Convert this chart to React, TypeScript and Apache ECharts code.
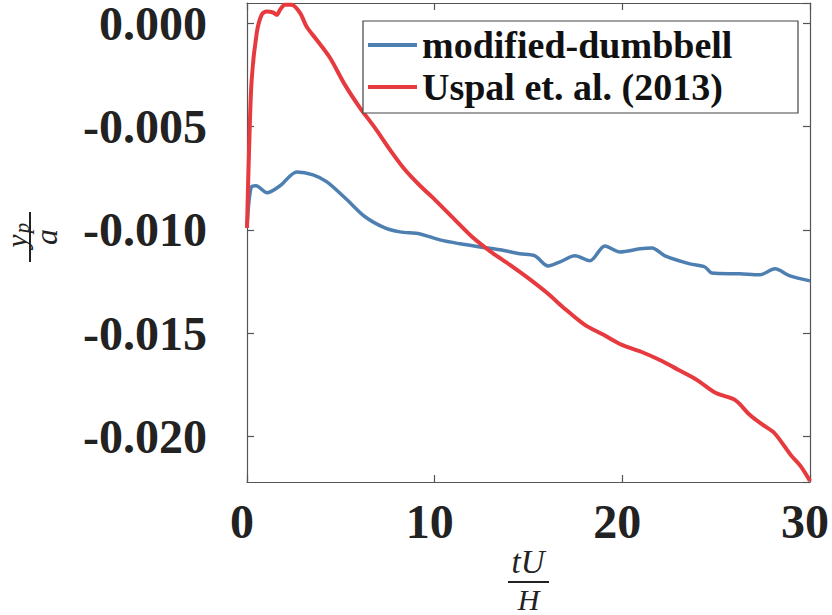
import React, { useEffect, useRef } from "react";
import * as echarts from "echarts";

const xTicks = [0, 10, 20, 30];
const yTickStep = 0.005;

const seriesNames = ["modified-dumbbell", "Uspal et. al. (2013)"];

const blueX = [0, 0.21, 0.48, 1.07, 1.76, 2.66, 3.52, 4.26, 5.33, 6.29, 7.35, 8.15, 9.22, 10.28, 11.35, 12.41, 13.48, 14.54, 15.34, 16.04, 16.68, 17.47, 18.27, 19.07, 19.87, 20.94, 21.58, 22.27, 23.6, 24.4, 24.77, 26.26, 27.33, 28.13, 28.93, 30];
const blueY = [-0.00991, -0.00797, -0.00787, -0.00821, -0.00787, -0.0072, -0.00734, -0.00768, -0.00855, -0.00937, -0.00991, -0.0101, -0.0102, -0.01049, -0.01068, -0.01083, -0.01097, -0.01116, -0.01126, -0.01175, -0.01155, -0.01126, -0.0115, -0.01078, -0.01107, -0.01092, -0.01088, -0.01126, -0.01165, -0.0118, -0.01209, -0.01213, -0.01218, -0.01189, -0.01223, -0.01247];

const redX = [0, 0.11, 0.25, 0.52, 0.78, 1.05, 1.39, 1.58, 1.76, 2.02, 2.38, 2.82, 3.18, 3.71, 4.42, 5.22, 6.02, 6.82, 7.62, 8.42, 9.22, 10.02, 11.08, 11.99, 13.0, 14.01, 14.97, 15.98, 17.0, 18.0, 19.0, 19.98, 21.0, 22.0, 23.0, 23.97, 24.99, 26.0, 26.8, 27.49, 28.1, 28.98, 29.5, 30];
const redY = [-0.00991, -0.00613, -0.00274, -0.00047, 0.0004, 0.00056, 0.00051, 0.0004, 0.00064, 0.00089, 0.00089, 0.0005, -0.00018, -0.00081, -0.00168, -0.00299, -0.0041, -0.00507, -0.00613, -0.0071, -0.00787, -0.00855, -0.00952, -0.01034, -0.01107, -0.0117, -0.01233, -0.01305, -0.01387, -0.0146, -0.01508, -0.01557, -0.0159, -0.0163, -0.01678, -0.01726, -0.0179, -0.01823, -0.01896, -0.01944, -0.01983, -0.0209, -0.02143, -0.02215];

const X_MIN = 0;
const X_MAX = 30;
const Y_MIN = -0.0222;
const Y_MAX = 0.00097;

const BLUE = "#4e7fb1";
const RED = "#e63a3f";
const AXIS = "#555555";
const TEXT = "#222222";
const TICK_FONT = "'Liberation Serif', 'DejaVu Serif', serif";

export default function App() {
  const ref = useRef<HTMLDivElement>(null);

  useEffect(() => {
    if (!ref.current) return;
    const chart = echarts.init(ref.current, undefined, { renderer: "svg" });

    const axisLine = { show: true, onZero: false, lineStyle: { color: AXIS, width: 1.2 } };
    const axisTick = { show: true, inside: true, length: 7, lineStyle: { color: AXIS, width: 1.2 } };
    const tickLabel = {
      fontFamily: TICK_FONT,
      fontWeight: "bold" as const,
      fontSize: 48,
      lineHeight: 38,
      color: TEXT,
    };

    const xBase = {
      type: "value" as const,
      min: X_MIN,
      max: X_MAX,
      interval: xTicks[1] - xTicks[0],
      splitLine: { show: false },
      axisLine,
      axisTick,
    };
    const yBase = {
      type: "value" as const,
      min: Y_MIN,
      max: Y_MAX,
      splitNumber: 5,
      minInterval: yTickStep,
      maxInterval: yTickStep,
      splitLine: { show: false },
      axisLine,
      axisTick,
    };

    chart.setOption({
      animation: false,
      backgroundColor: "#ffffff",
      grid: {
        left: 247,
        right: 22,
        top: 3,
        bottom: 133,
        containLabel: false,
        outerBoundsMode: "none",
      },
      xAxis: [
        {
          ...xBase,
          position: "bottom",
          axisLabel: { ...tickLabel, margin: 20, padding: [0, 10, 0, 0] },
        },
        { ...xBase, position: "top", axisLabel: { show: false } },
      ],
      yAxis: [
        {
          ...yBase,
          position: "left",
          axisLabel: {
            ...tickLabel,
            margin: 40,
            showMinLabel: false,
            showMaxLabel: false,
            formatter: (v: number) => (Math.abs(v) < 1e-9 ? 0 : v).toFixed(3),
          },
        },
        { ...yBase, position: "right", axisLabel: { show: false } },
      ],
      legend: {
        show: true,
        orient: "vertical",
        left: 368,
        top: 24,
        padding: 0,
        itemGap: 0,
        itemWidth: 49,
        itemHeight: 4,
        icon: "rect",
        z: 10,
        textStyle: {
          fontFamily: TICK_FONT,
          fontWeight: "bold",
          fontSize: 38,
          color: "#111111",
          lineHeight: 42,
        },
        data: seriesNames,
      },
      graphic: [
        {
          type: "rect",
          shape: { x: 363, y: 21, width: 435, height: 92 },
          style: { fill: "#ffffff", stroke: "#444444", lineWidth: 1.2 },
          z: 5,
        },
        {
          type: "group",
          x: 30,
          y: 237,
          rotation: Math.PI / 2,
          children: [
            {
              type: "text",
              x: -4,
              y: -14,
              style: {
                text: "y",
                font: "italic 30px 'Liberation Serif', serif",
                fill: TEXT,
                align: "center",
                verticalAlign: "middle",
              },
            },
            {
              type: "text",
              x: 9,
              y: -8,
              style: {
                text: "p",
                font: "italic 21px 'Liberation Serif', serif",
                fill: TEXT,
                align: "center",
                verticalAlign: "middle",
              },
            },
            {
              type: "line",
              shape: { x1: -25, y1: 0, x2: 25, y2: 0 },
              style: { stroke: TEXT, lineWidth: 2 },
            },
            {
              type: "text",
              x: 0,
              y: 16,
              style: {
                text: "a",
                font: "italic 32px 'Liberation Serif', serif",
                fill: TEXT,
                align: "center",
                verticalAlign: "middle",
              },
            },
          ],
        },
        {
          type: "text",
          x: 528,
          y: 562,
          style: {
            text: "tU",
            font: "italic 33px 'Liberation Serif', serif",
            fill: TEXT,
            align: "center",
            verticalAlign: "middle",
          },
        },
        {
          type: "line",
          shape: { x1: 508, y1: 582, x2: 549, y2: 582 },
          style: { stroke: TEXT, lineWidth: 2 },
        },
        {
          type: "text",
          x: 528.5,
          y: 599,
          style: {
            text: "H",
            font: "italic 30px 'Liberation Serif', serif",
            fill: TEXT,
            align: "center",
            verticalAlign: "middle",
          },
        },
      ],
      series: [
        {
          name: seriesNames[0],
          type: "line",
          xAxisIndex: 0,
          yAxisIndex: 0,
          data: blueX.map((x, i) => [x, blueY[i]]),
          showSymbol: false,
          symbol: "none",
          smooth: 0.3,
          lineStyle: { color: BLUE, width: 3.5 },
          itemStyle: { color: BLUE },
          z: 2,
        },
        {
          name: seriesNames[1],
          type: "line",
          xAxisIndex: 0,
          yAxisIndex: 0,
          data: redX.map((x, i) => [x, redY[i]]),
          showSymbol: false,
          symbol: "none",
          smooth: 0.3,
          lineStyle: { color: RED, width: 4 },
          itemStyle: { color: RED },
          z: 3,
        },
      ],
    });

    return () => chart.dispose();
  }, []);

  return (
    <div
      ref={ref}
      style={{ position: "fixed", left: 0, top: 0, width: 832, height: 615, background: "#fff" }}
    />
  );
}
